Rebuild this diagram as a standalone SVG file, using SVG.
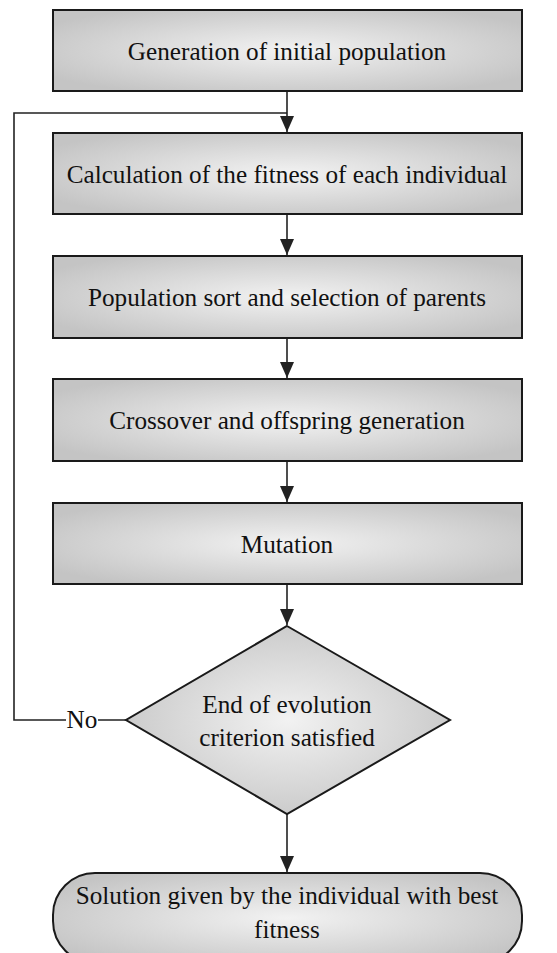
<svg xmlns="http://www.w3.org/2000/svg" width="557" height="953" viewBox="0 0 557 953">
<defs>
<radialGradient id="g" cx="0.5" cy="0.5" r="0.6">
<stop offset="0" stop-color="#f2f2f2"/>
<stop offset="1" stop-color="#c4c4c4"/>
</radialGradient>
<marker id="ah" markerWidth="16" markerHeight="14" refX="16" refY="7" orient="auto" markerUnits="userSpaceOnUse">
<path d="M0,0 L16,7 L0,14 Z" fill="#222"/>
</marker>
<style>
.n{fill:url(#g);stroke:#1a1a1a;stroke-width:2}
.t{font-family:'Liberation Serif','Times New Roman','DejaVu Serif',serif;font-size:25.2px;fill:#111;text-anchor:middle}
.c{fill:none;stroke:#222;stroke-width:1.6}
</style>
</defs>
<rect width="557" height="953" fill="#fff"/>
<g id="connectors">
<path class="c" d="M287,91 V132" marker-end="url(#ah)"/>
<path class="c" d="M287,214 V255" marker-end="url(#ah)"/>
<path class="c" d="M287,338 V378" marker-end="url(#ah)"/>
<path class="c" d="M287,461 V502" marker-end="url(#ah)"/>
<path class="c" d="M287,584 V625" marker-end="url(#ah)"/>
<path class="c" d="M287,814 V872" marker-end="url(#ah)"/>
<path class="c" d="M126,720 H98 M66,720 H14 V113 H287"/>
<text class="t" x="82" y="728">No</text>
</g>
<g id="n1"><rect class="n" x="53" y="10" width="469" height="81"/><text class="t" x="287" y="60">Generation of initial population</text></g>
<g id="n2"><rect class="n" x="53" y="133" width="469" height="81"/><text class="t" x="287" y="183">Calculation of the fitness of each individual</text></g>
<g id="n3"><rect class="n" x="53" y="256" width="469" height="82"/><text class="t" x="287" y="306">Population sort and selection of parents</text></g>
<g id="n4"><rect class="n" x="53" y="379" width="469" height="82"/><text class="t" x="287" y="429">Crossover and offspring generation</text></g>
<g id="n5"><rect class="n" x="53" y="503" width="469" height="81"/><text class="t" x="287" y="553">Mutation</text></g>
<g id="d1"><polygon class="n" points="287,626 450,720 287,814 126,720"/><text class="t" x="287" y="713">End of evolution</text><text class="t" x="287" y="746">criterion satisfied</text></g>
<g id="t1"><rect class="n" x="53" y="873" width="469" height="90" rx="42" ry="42"/><text class="t" x="287" y="904">Solution given by the individual with best</text><text class="t" x="287" y="938">fitness</text></g>
</svg>
